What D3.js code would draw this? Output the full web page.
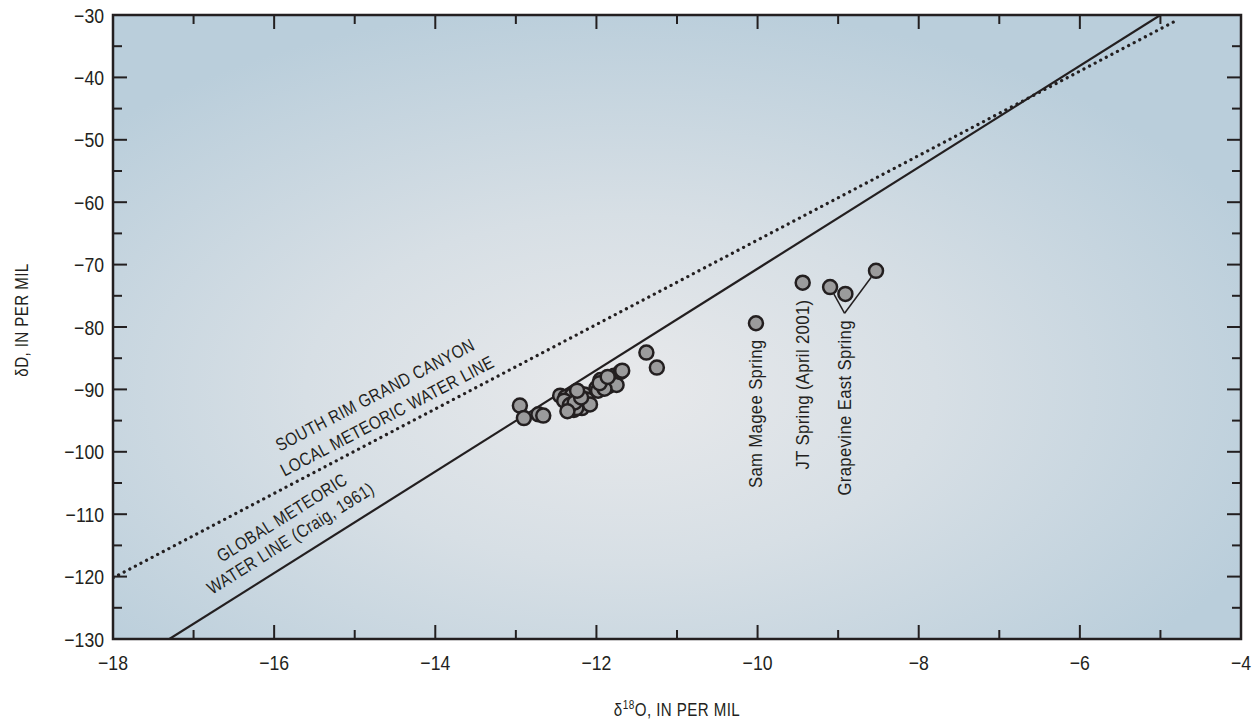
<!DOCTYPE html>
<html>
<head>
<meta charset="utf-8">
<script src="https://cdn.jsdelivr.net/npm/d3@7/dist/d3.min.js"></script>
<style>
  body { margin: 0; background: #fff; }
  text { font-family: "Liberation Sans Narrow", "Liberation Sans", sans-serif; fill: #231f20; }
</style>
</head>
<body>
<script>
// Stable isotope plot, delta D vs delta 18O

// spring samples (delta 18O, delta D)
const clusterO = [-12.95, -12.90, -12.72, -12.66, -12.45, -12.38, -12.35, -12.30, -12.28, -12.25,
  -12.22, -12.20, -12.18, -12.15, -12.12, -12.08, -12.30, -12.25, -12.40, -12.33,
  -12.27, -12.19, -12.24, -12.36, -12.00, -11.98, -11.95, -11.92, -11.88, -11.85,
  -11.82, -11.78, -11.75, -11.70, -11.68, -11.90, -11.96, -11.86, -11.38, -11.25];
const clusterD = [-92.6, -94.6, -94.0, -94.2, -91.0, -91.2, -92.0, -92.8, -93.3, -91.5,
  -90.5, -92.2, -93.0, -90.8, -91.6, -92.4, -90.9, -93.0, -91.8, -92.5,
  -92.1, -91.3, -90.2, -93.5, -89.8, -90.2, -88.5, -89.2, -88.8, -89.5,
  -88.2, -87.8, -89.3, -87.2, -87.0, -89.9, -89.0, -88.0, -84.1, -86.5];

const namedO = [-10.02, -9.44, -9.10, -8.91, -8.53];
const namedD = [-79.4, -72.9, -73.6, -74.7, -71.0];

// water lines, end points
const gmwlO = [-17.3, -5.0];
const gmwlD = [-130, -30];
const lmwlO = [-18, -4.79];
const lmwlD = [-120.2, -30.8];

const xTicks = [-18, -16, -14, -12, -10, -8, -6, -4];
const xMinor = d3.range(-17, -4, 2);
const yTicks = d3.range(-130, -29, 10);
const yMinor = d3.range(-125, -30, 10);

const W = 1260, H = 721;
const x = d3.scaleLinear().domain([-18, -4]).range([113, 1241]);
const y = d3.scaleLinear().domain([-130, -30]).range([639, 15]);
const minus = v => String(v).replace("-", "\u2212");
const narrow = 0.84; // condensed look

const svg = d3.select("body").append("svg")
  .attr("width", W)
  .attr("height", H);

const defs = svg.append("defs");
const grad = defs.append("radialGradient")
  .attr("id", "bg")
  .attr("cx", 0.45).attr("cy", 0.6).attr("r", 0.62);
grad.append("stop").attr("offset", "0%").attr("stop-color", "#e8e9eb");
grad.append("stop").attr("offset", "45%").attr("stop-color", "#d7dfe5");
grad.append("stop").attr("offset", "100%").attr("stop-color", "#bacedb");

defs.append("clipPath").attr("id", "clip")
  .append("rect")
  .attr("x", x(-18)).attr("y", y(-30))
  .attr("width", x(-4) - x(-18)).attr("height", y(-130) - y(-30));

svg.append("rect")
  .attr("x", x(-18)).attr("y", y(-30))
  .attr("width", x(-4) - x(-18)).attr("height", y(-130) - y(-30))
  .attr("fill", "url(#bg)");

// ticks, inside on all four sides
const tk = svg.append("g").attr("stroke", "#231f20").attr("stroke-width", 2);
const tickSet = [
  ...yTicks.slice(1, -1).map(v => ({ v, len: 14 })),
  ...yMinor.map(v => ({ v, len: 9 }))
];
tickSet.forEach(t => {
  tk.append("line").attr("x1", x(-18)).attr("x2", x(-18) + t.len).attr("y1", y(t.v)).attr("y2", y(t.v));
  tk.append("line").attr("x1", x(-4)).attr("x2", x(-4) - t.len).attr("y1", y(t.v)).attr("y2", y(t.v));
});
const xtickSet = [
  ...xTicks.slice(1, -1).map(v => ({ v, len: 14 })),
  ...xMinor.map(v => ({ v, len: 9 }))
];
xtickSet.forEach(t => {
  tk.append("line").attr("x1", x(t.v)).attr("x2", x(t.v)).attr("y1", y(-130)).attr("y2", y(-130) - t.len);
  tk.append("line").attr("x1", x(t.v)).attr("x2", x(t.v)).attr("y1", y(-30)).attr("y2", y(-30) + t.len);
});

// water lines
const line = d3.line().x(d => x(d[0])).y(d => y(d[1]));
const plot = svg.append("g").attr("clip-path", "url(#clip)");
plot.append("path")
  .datum(d3.zip(gmwlO, gmwlD))
  .attr("d", line)
  .attr("fill", "none")
  .attr("stroke", "#231f20")
  .attr("stroke-width", 2.2);
plot.append("path")
  .datum(d3.zip(lmwlO, lmwlD))
  .attr("d", line)
  .attr("fill", "none")
  .attr("stroke", "#231f20")
  .attr("stroke-width", 3.2)
  .attr("stroke-linecap", "round")
  .attr("stroke-dasharray", "0.1 6.2");

// frame
svg.append("rect")
  .attr("x", x(-18)).attr("y", y(-30))
  .attr("width", x(-4) - x(-18)).attr("height", y(-130) - y(-30))
  .attr("fill", "none")
  .attr("stroke", "#231f20")
  .attr("stroke-width", 2.5);

// line labels
const angle = (xs, ys) => Math.atan2(y(ys[1]) - y(ys[0]), x(xs[1]) - x(xs[0])) * 180 / Math.PI;
const aL = angle(lmwlO, lmwlD), aG = angle(gmwlO, gmwlD);
const lineLabels = [
  { t: "SOUTH RIM GRAND CANYON", o: -15.93, d: -100.0, a: aL },
  { t: "LOCAL METEORIC WATER LINE", o: -15.87, d: -104.0, a: aL },
  { t: "GLOBAL METEORIC", o: -16.65, d: -117.8, a: aG },
  { t: "WATER LINE (Craig, 1961)", o: -16.77, d: -122.95, a: aG }
];
svg.append("g").selectAll("text")
  .data(lineLabels)
  .join("text")
    .attr("transform", d => `translate(${x(d.o)},${y(d.d)}) rotate(${d.a}) scale(${narrow},1)`)
    .attr("font-size", 18)
    .attr("letter-spacing", 0.5)
    .text(d => d.t);

// leader lines to Grapevine East Spring
const vtx = [x(-8.92), y(-77.8)];
[[namedO[2], namedD[2]], [namedO[4], namedD[4]]].forEach(p => {
  const px = x(p[0]), py = y(p[1]);
  const dx = px - vtx[0], dy = py - vtx[1], L = Math.hypot(dx, dy);
  svg.append("line")
    .attr("x1", vtx[0]).attr("y1", vtx[1])
    .attr("x2", px - dx / L * 8).attr("y2", py - dy / L * 8)
    .attr("stroke", "#231f20").attr("stroke-width", 1.5);
});

// points
const pts = d3.zip(clusterO, clusterD).concat(d3.zip(namedO, namedD));
svg.append("g").selectAll("circle")
  .data(pts)
  .join("circle")
    .attr("cx", d => x(d[0]))
    .attr("cy", d => y(d[1]))
    .attr("r", 7)
    .attr("fill", "#9b9b9c")
    .attr("stroke", "#231f20")
    .attr("stroke-width", 2.5);

// spring names, vertical
const springLabels = [
  { t: "Sam Magee Spring", o: -10.02, d: -82.0 },
  { t: "JT Spring (April 2001)", o: -9.44, d: -75.6 },
  { t: "Grapevine East Spring", o: -8.92, d: -78.9 }
];
svg.append("g").selectAll("text")
  .data(springLabels)
  .join("text")
    .attr("transform", d => `translate(${x(d.o) + 6},${y(d.d)}) rotate(-90) scale(0.88,1)`)
    .attr("text-anchor", "end")
    .attr("font-size", 19)
    .attr("letter-spacing", 0.4)
    .text(d => d.t);

// tick labels
svg.append("g").selectAll("text")
  .data(yTicks)
  .join("text")
    .attr("transform", d => `translate(104,${y(d) + 7.5}) scale(${narrow},1)`)
    .attr("text-anchor", "end")
    .attr("font-size", 21)
    .text(minus);
svg.append("g").selectAll("text")
  .data(xTicks)
  .join("text")
    .attr("transform", d => `translate(${x(d)},669.5) scale(${narrow},1)`)
    .attr("text-anchor", "middle")
    .attr("font-size", 21)
    .text(minus);

// axis titles
const xt = svg.append("text")
  .attr("transform", `translate(677,716) scale(${narrow},1)`)
  .attr("text-anchor", "middle")
  .attr("font-size", 18)
  .attr("letter-spacing", 0.5);
xt.append("tspan").text("\u03b4");
xt.append("tspan").attr("font-size", 12).attr("dy", -7).text("18");
xt.append("tspan").attr("dy", 7).text("O, IN PER MIL");

svg.append("text")
  .attr("transform", `translate(28,320) rotate(-90) scale(${narrow},1)`)
  .attr("text-anchor", "middle")
  .attr("font-size", 18)
  .attr("letter-spacing", 0.5)
  .text("\u03b4D, IN PER MIL");
</script>
</body>
</html>
